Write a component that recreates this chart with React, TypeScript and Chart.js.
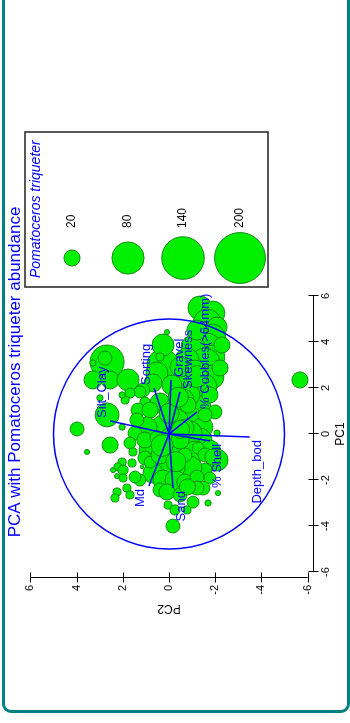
import React, { useEffect, useRef } from "react";
import { Chart, registerables } from "chart.js";

Chart.register(...registerables);

// Site scores on the first two principal components
const pc1 = [
  5.48, 5.26, 4.83, 4.65, 4.17, 3.78, 3.78, 3.35, 3.09, 3.22,
  2.48, 2.48, 2.04, 1.17, 0.48, 3.87, 1.70, 3.00, 3.87, 3.35,
  2.65, 2.91, 2.22, 4.43, 1.91, 2.13, 3.13, 3.30, 3.09, 2.35,
  2.35, 2.35, 1.83, 1.78, 1.48, 1.70, 0.83, 0.22, -0.48, -0.78,
  1.39, 0.30, 1.57, 1.35, 1.48, 1.04, 1.04, 1.13, 0.74, 0.61,
  0.30, 0.30, 0.61, 0.04, -0.39, 0.30, -0.26, 0.04, -0.70, -0.70,
  0.04, -0.78, 0.26, -0.17, -0.26, -0.17, -0.70, -1.13, -1.57, -1.91,
  -0.61, -1.48, -1.48, -1.43, -1.70, -2.00, -2.00, -2.09, -1.87, -2.35,
  -2.43, -2.52, -2.65, -3.09, -2.96, -2.35, -3.00, -2.57, -4.00, -1.04,
  -2.00, -1.22, -0.91, -0.91, -0.26, -0.91, -3.30, -3.30, -1.22, -1.43,
  -1.57, -1.57, -1.83, -1.91, -1.87, -1.26, -2.52, -2.78, -2.35, -2.65,
  -1.43, -0.78, 2.35, 4.52, 2.87, 2.78, 1.26, 1.70, 0.96, 0.83,
  0.90, -0.50, -1.20, 0.20, 1.60, -2.30, -1.00, 2.50,
];
const pc2 = [
  -1.34, -1.90, -1.65, -2.08, -1.86, -1.65, -1.04, -1.90, -1.56, -0.78,
  -1.86, -0.61, -1.47, -1.34, -1.13, -2.29, -0.91, 0.26, 0.26, 0.39,
  0.52, -0.48, 0.69, 0.09, 1.13, -0.13, 2.68, 2.77, 3.29, 3.29,
  2.55, 1.77, 1.26, 1.69, 1.90, 2.03, 2.68, 3.98, 2.55, 3.55,
  1.04, 2.03, 2.99, 0.39, -0.61, 1.34, 0.82, -0.35, -0.91, -0.35,
  0.26, 0.95, 1.39, 1.47, 1.69, -1.47, -1.34, -2.08, 0.69, -0.17,
  -0.91, -1.13, -0.69, -0.04, 1.04, 0.52, -1.77, -2.08, -1.56, -1.77,
  -1.26, -0.91, -0.35, 0.09, 0.69, 0.26, -0.26, -0.69, -1.21, -1.47,
  0.39, 0.09, -0.48, 0.04, -1.04, -1.21, -1.69, -2.12, -0.17, 1.04,
  1.26, 0.82, -0.69, -1.56, -0.48, 0.39, -0.78, -0.26, 2.03, 2.21,
  2.42, 1.99, 2.25, 1.99, 1.47, 1.60, 2.25, 2.34, 1.82, 1.69,
  1.17, 1.56, -5.67, -1.21, -2.21, -1.13, -0.82, -1.77, -1.99, -1.56,
  0.00, 0.30, -0.30, -0.50, -0.40, -0.80, -1.90, -1.20,
];
// Pomatoceros triqueter abundance at each site
const abundance = [
  44, 44, 60, 31, 60, 60, 44, 44, 69, 44,
  44, 37, 60, 37, 31, 20, 31, 79, 37, 5,
  37, 31, 25, 2, 15, 31, 89, 15, 3, 25,
  25, 37, 11, 8, 5, 3, 44, 15, 20, 2,
  8, 3, 3, 31, 37, 15, 20, 44, 37, 37,
  44, 31, 15, 15, 11, 31, 44, 3, 60, 44,
  44, 37, 25, 31, 20, 15, 31, 37, 15, 11,
  11, 44, 20, 25, 31, 31, 31, 20, 15, 15,
  15, 20, 15, 5, 11, 15, 3, 2, 15, 15,
  11, 11, 15, 15, 25, 25, 5, 8, 5, 5,
  2, 8, 2, 5, 11, 5, 5, 5, 5, 5,
  1, 5, 20, 31, 20, 31, 20, 20, 15, 15,
  31, 37, 31, 25, 31, 20, 20, 37,
];

// Environmental variable loadings (biplot vectors)
const varNames = [
  "Silt_Clay", "Sorting", "Gravel", "Skewness", "% Cobbles(>64mm)",
  "Depth_bod", "% Shell", "Md", "Sand",
];
const varPC1 = [0.57, 2.0, 2.35, 1.83, 0.96, -0.13, -0.3, -2.26, -2.35];
const varPC2 = [2.55, 0.65, -0.09, -0.48, -1.21, -3.5, -1.77, 0.87, -0.17];

const axisTicks = [-6, -4, -2, 0, 2, 4, 6];
const legendValues = [20, 80, 140, 200];
const circleRadius = 5;

const TITLE = "PCA with Pomatoceros triqueter abundance";
const LEGEND_TITLE = "Pomatoceros triqueter";

const FONT = "'Liberation Sans', Arial, Helvetica, sans-serif";
const BUBBLE_FILL = "#00f000";
const BUBBLE_EDGE = "#178a17";
const BLUE = "#0000ff";

const W = 712;
const H = 342;

const bubbleRadius = (a: number) => 1.8 * Math.sqrt(a);

const overlay = {
  id: "overlay",
  afterDatasetsDraw(chart: any) {
    const { ctx, chartArea, scales } = chart;
    const xs = scales.x;
    const ys = scales.y;
    ctx.save();

    // axes with ticks crossing the line
    ctx.strokeStyle = "#000";
    ctx.lineWidth = 1;
    ctx.beginPath();
    const ax = Math.round(chartArea.bottom) + 0.5;
    ctx.moveTo(xs.getPixelForValue(axisTicks[0]), ax);
    ctx.lineTo(xs.getPixelForValue(axisTicks[axisTicks.length - 1]), ax);
    axisTicks.forEach((t) => {
      const p = Math.round(xs.getPixelForValue(t)) + 0.5;
      ctx.moveTo(p, ax - 5);
      ctx.lineTo(p, ax + 5);
    });
    const ay = Math.round(chartArea.left) + 0.5;
    ctx.moveTo(ay, ys.getPixelForValue(axisTicks[0]));
    ctx.lineTo(ay, ys.getPixelForValue(axisTicks[axisTicks.length - 1]));
    axisTicks.forEach((t) => {
      const p = Math.round(ys.getPixelForValue(t)) + 0.5;
      ctx.moveTo(ay - 5, p);
      ctx.lineTo(ay + 5, p);
    });
    ctx.stroke();

    // correlation circle
    const cx = xs.getPixelForValue(0);
    const cy = ys.getPixelForValue(0);
    const rx = xs.getPixelForValue(circleRadius) - cx;
    const ry = cy - ys.getPixelForValue(circleRadius);
    ctx.strokeStyle = BLUE;
    ctx.lineWidth = 1.5;
    ctx.beginPath();
    ctx.ellipse(cx, cy, rx, ry, 0, 0, Math.PI * 2);
    ctx.stroke();

    // vector labels
    ctx.fillStyle = BLUE;
    ctx.font = `13px ${FONT}`;
    ctx.textBaseline = "middle";
    varNames.forEach((name, i) => {
      const ex = xs.getPixelForValue(varPC1[i]);
      const ey = ys.getPixelForValue(varPC2[i]);
      const right = varPC1[i] >= 0;
      ctx.textAlign = right ? "left" : "right";
      ctx.fillText(name, ex + (right ? 3 : -3), ey + (varPC2[i] > 0 ? -8 : 8));
    });

    // main title
    ctx.font = `17px ${FONT}`;
    ctx.textAlign = "center";
    ctx.fillText(TITLE, 340, 9);

    // size legend
    const boxL = 425, boxT = 19, boxR = 580, boxB = 262;
    ctx.strokeStyle = "#222";
    ctx.lineWidth = 1.5;
    ctx.strokeRect(boxL, boxT, boxR - boxL, boxB - boxT);
    ctx.font = `italic 14px ${FONT}`;
    ctx.textAlign = "left";
    ctx.fillStyle = BLUE;
    ctx.fillText(LEGEND_TITLE, 434, 30);
    const rowV = [66, 122, 177, 234];
    legendValues.forEach((v, i) => {
      ctx.beginPath();
      ctx.arc(454, rowV[i], bubbleRadius(v), 0, Math.PI * 2);
      ctx.fillStyle = BUBBLE_FILL;
      ctx.fill();
      ctx.strokeStyle = BUBBLE_EDGE;
      ctx.lineWidth = 1;
      ctx.stroke();
      ctx.fillStyle = "#000";
      ctx.font = `12px ${FONT}`;
      ctx.fillText(String(v), 484, rowV[i]);
    });

    ctx.restore();
  },
};

export default function App() {
  const ref = useRef<HTMLCanvasElement | null>(null);

  useEffect(() => {
    if (!ref.current) return;
    const bubbles = pc1.map((x, i) => ({ x, y: pc2[i], r: bubbleRadius(abundance[i]) }));
    const vectors = varNames.map((name, i) => ({
      type: "line" as const,
      label: name,
      data: [
        { x: 0, y: 0 },
        { x: varPC1[i], y: varPC2[i] },
      ],
      borderColor: BLUE,
      borderWidth: 1.5,
      pointRadius: 0,
      fill: false,
      order: 0,
    }));

    const tickFont = { family: FONT, size: 11 };
    const chart = new Chart(ref.current, {
      type: "bubble",
      data: {
        datasets: [
          {
            label: "Pomatoceros triqueter",
            data: bubbles,
            backgroundColor: BUBBLE_FILL,
            borderColor: BUBBLE_EDGE,
            borderWidth: 1,
            order: 1,
          } as any,
          ...(vectors as any[]),
        ],
      },
      options: {
        animation: false,
        responsive: false,
        maintainAspectRatio: false,
        devicePixelRatio: 1,
        events: [],
        layout: { padding: { left: 0, right: W - 422, top: 19, bottom: 0 } },
        plugins: {
          legend: { display: false },
          tooltip: { enabled: false },
          title: { display: false },
        },
        scales: {
          x: {
            type: "linear",
            min: -6.26,
            max: 6.26,
            afterBuildTicks: (s: any) => {
              s.ticks = axisTicks.map((value) => ({ value }));
            },
            afterFit: (s: any) => {
              s.height = 35;
            },
            grid: { display: true, drawOnChartArea: false, color: "rgba(0,0,0,0)", tickLength: 5 },
            border: { display: false },
            ticks: { color: "#000", font: tickFont, padding: 1, maxRotation: 0, autoSkip: false },
            title: { display: true, text: "PC1", color: "#000", font: { family: FONT, size: 12 }, padding: 0 },
          },
          y: {
            type: "linear",
            min: -6.234,
            max: 6.234,
            afterBuildTicks: (s: any) => {
              s.ticks = axisTicks.map((value) => ({ value }));
            },
            afterFit: (s: any) => {
              s.width = 134;
            },
            grid: { display: true, drawOnChartArea: false, color: "rgba(0,0,0,0)", tickLength: 5 },
            border: { display: false },
            ticks: { color: "#000", font: tickFont, padding: 2, autoSkip: false },
            title: {
              display: true,
              text: "PC2",
              color: "#000",
              font: { family: FONT, size: 12 },
              padding: { top: 96, bottom: 0 },
            },
          },
        },
      } as any,
      plugins: [overlay],
    });
    return () => chart.destroy();
  }, []);

  return (
    <div
      style={{
        position: "fixed",
        left: 0,
        top: 0,
        width: 350,
        height: 723,
        background: "#fff",
        overflow: "hidden",
      }}
    >
      <div
        style={{
          position: "absolute",
          left: 2,
          top: -20,
          width: 348,
          height: 733,
          boxSizing: "border-box",
          border: "3px solid #008080",
          borderRadius: 9,
        }}
      />
      <div
        style={{
          position: "absolute",
          left: 6,
          top: 712,
          width: W,
          height: H,
          transformOrigin: "0 0",
          transform: "rotate(-90deg)",
        }}
      >
        <canvas ref={ref} width={W} height={H} style={{ display: "block", width: W, height: H }} />
      </div>
    </div>
  );
}
